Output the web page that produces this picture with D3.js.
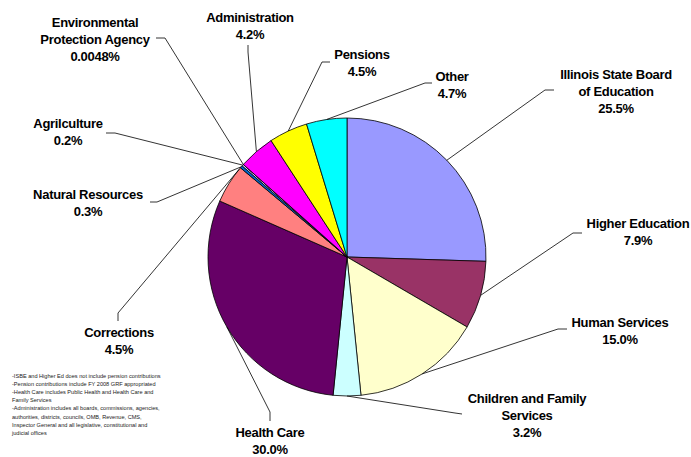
<!DOCTYPE html>
<html>
<head>
<meta charset="utf-8">
<script src="https://cdn.jsdelivr.net/npm/d3@7"></script>
<style>
  html, body { margin: 0; padding: 0; background: #fff; }
  svg { display: block; }
  text { font-family: "Liberation Sans", Arial, sans-serif; }
</style>
</head>
<body>
<svg id="chart" width="691" height="457"></svg>
<script>
// ---- data ----
const categories = [
  "Illinois State Board\nof Education",
  "Higher Education",
  "Human Services",
  "Children and Family\nServices",
  "Health Care",
  "Corrections",
  "Natural Resources",
  "Agrilculture",
  "Environmental\nProtection Agency",
  "Administration",
  "Pensions",
  "Other"
];
const values = [25.5, 7.9, 15.0, 3.2, 30.0, 4.5, 0.3, 0.2, 0.0048, 4.2, 4.5, 4.7];
const pctLabels = ["25.5%", "7.9%", "15.0%", "3.2%", "30.0%", "4.5%", "0.3%", "0.2%", "0.0048%", "4.2%", "4.5%", "4.7%"];
const colors = ["#9999FF", "#993366", "#FFFFCC", "#CCFFFF", "#660066", "#FF8080",
                "#0066CC", "#CCCCFF", "#000080", "#FF00FF", "#FFFF00", "#00FFFF"];
const footnotes = [
  "-ISBE and Higher Ed does not include pension contributions",
  "-Pension contributions include FY 2008 GRF appropriated",
  "-Health Care includes Public Health and Health Care and",
  "Family Services",
  "-Administration includes all boards, commissions, agencies,",
  "authorities, districts, councils, OMB, Revenue, CMS,",
  "Inspector General and all legislative, constitutional and",
  "judicial offices"
];

// ---- layout (label placement) ----
const labelLayout = [
  {x: 616, y: 79,  elbow: [545, 90],  attach: [554, 90]},
  {x: 638, y: 228, elbow: [573, 233], attach: [582, 233]},
  {x: 620, y: 327, elbow: [558, 329], attach: [567, 329]},
  {x: 527, y: 403, elbow: [455, 413], attach: [462, 414]},
  {x: 270, y: 437, elbow: [270, 412], attach: [270, 421]},
  {x: 119, y: 337, elbow: [118, 313], attach: [118, 321]},
  {x: 88,  y: 199, elbow: [157, 202], attach: [150, 202]},
  {x: 68,  y: 128, elbow: [115, 133], attach: [106, 133]},
  {x: 95,  y: 27,  elbow: [165, 38],  attach: [156, 38]},
  {x: 250, y: 22,  elbow: [248, 52],  attach: [248, 45]},
  {x: 362, y: 59,  elbow: [322, 62],  attach: [330, 62]},
  {x: 452, y: 81,  elbow: [425, 83],  attach: [432, 83]}
];
const leaderAnchor = [0.5, 0.5, 0.5, 0.5, 0.5, 0.95, 0.5, 0.5, 0.5, 0.5, 0.5, 0.5];

const cx = 347, cy = 257, R = 139;
const svg = d3.select("#chart");

const data = categories.map((c, i) => ({name: c, value: values[i], i}));
const pie = d3.pie().sort(null).value(d => d.value).startAngle(0).endAngle(2 * Math.PI);
const arcs = pie(data);
const arc = d3.arc().innerRadius(0).outerRadius(R);

const g = svg.append("g").attr("transform", `translate(${cx},${cy})`);
g.selectAll("path.slice").data(arcs).join("path")
  .attr("class", "slice")
  .attr("d", arc)
  .attr("fill", d => colors[d.data.i])
  .attr("stroke", "#000")
  .attr("stroke-width", 0.8)
  .attr("stroke-linejoin", "round");

// leader lines
const leaders = svg.append("g");
arcs.forEach(a => {
  const i = a.data.i;
  const ang = a.startAngle + (a.endAngle - a.startAngle) * leaderAnchor[i];
  const px = cx + R * Math.sin(ang), py = cy - R * Math.cos(ang);
  const L = labelLayout[i];
  leaders.append("path")
    .attr("d", d3.line()([[px, py], L.elbow, L.attach]))
    .attr("fill", "none")
    .attr("stroke", "#000")
    .attr("stroke-width", 0.8);
});

// labels
const labels = svg.append("g");
arcs.forEach(a => {
  const i = a.data.i;
  const L = labelLayout[i];
  const lines = categories[i].split("\n").concat([pctLabels[i]]);
  const t = labels.append("text")
    .attr("x", L.x).attr("y", L.y)
    .attr("text-anchor", "middle")
    .attr("font-size", 13)
    .attr("font-weight", "bold")
    .attr("fill", "#000")
    .attr("letter-spacing", -0.3);
  lines.forEach((ln, k) => {
    t.append("tspan").attr("x", L.x).attr("y", L.y + k * 17).text(ln);
  });
});

// footnotes
const fn = svg.append("text")
  .attr("x", 12).attr("y", 378)
  .attr("font-size", 5.6)
  .attr("fill", "#222");
footnotes.forEach((ln, k) => {
  fn.append("tspan").attr("x", 12).attr("y", 378 + k * 8.1).text(ln);
});
</script>
</body>
</html>
